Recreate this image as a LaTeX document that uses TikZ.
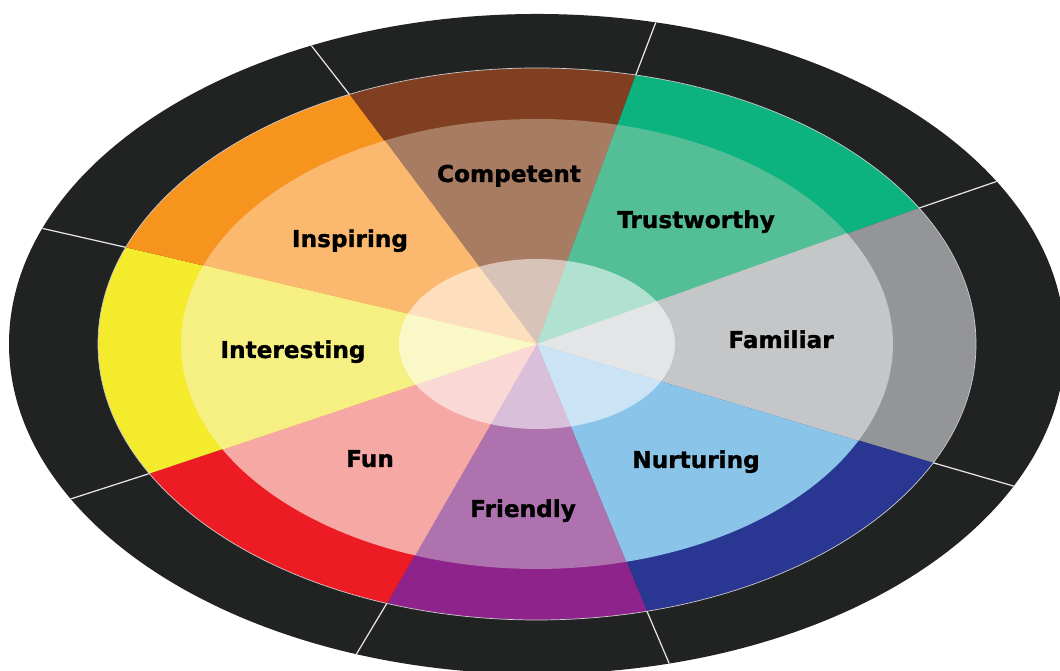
\documentclass[tikz,border=0pt]{standalone}
\usepackage{fontspec}
\setmainfont{DejaVu Sans}
\newfontfamily\wordfont[FakeBold=1.2]{DejaVu Sans Bold}
\usetikzlibrary{calc}

\definecolor{ring}{HTML}{212322}
\definecolor{compO}{HTML}{7F3F20}
\definecolor{compI}{HTML}{A77C62}
\definecolor{trustO}{HTML}{0DB37F}
\definecolor{trustI}{HTML}{54BE97}
\definecolor{famiO}{HTML}{949598}
\definecolor{famiI}{HTML}{C5C6C8}
\definecolor{nurtO}{HTML}{293692}
\definecolor{nurtI}{HTML}{8AC4E9}
\definecolor{frieO}{HTML}{8E248B}
\definecolor{frieI}{HTML}{AE72AE}
\definecolor{funO}{HTML}{ED1C24}
\definecolor{funI}{HTML}{F6A9A4}
\definecolor{inteO}{HTML}{F4EB2D}
\definecolor{inteI}{HTML}{F6F082}
\definecolor{inspO}{HTML}{F7941E}
\definecolor{inspI}{HTML}{FBB970}

\begin{document}
\begin{tikzpicture}[word/.style={font=\wordfont\fontsize{6.6}{8}\selectfont, anchor=base},
                    sep/.style={draw=white!80!gray, line width=0.35pt}]
                \useasboundingbox (0,0) rectangle (10.6,6.71);
                \clip (0,0) rectangle (10.6,6.71);
                \coordinate (C) at (5.37,3.27);
                % dark ring
                \fill[ring] (C) ellipse [x radius=5.28, y radius=3.30];
                % outer colour band
                \fill[compO] (C) -- ++(77:4.39 and 2.76) arc[start angle=77, end angle=115.3, x radius=4.39, y radius=2.76] -- cycle;
                \fill[trustO] (C) -- ++(29.5:4.39 and 2.76) arc[start angle=29.5, end angle=77, x radius=4.39, y radius=2.76] -- cycle;
                \fill[famiO] (C) -- ++(-25.5:4.39 and 2.76) arc[start angle=-25.5, end angle=29.5, x radius=4.39, y radius=2.76] -- cycle;
                \fill[nurtO] (C) -- ++(-75.5:4.39 and 2.76) arc[start angle=-75.5, end angle=-25.5, x radius=4.39, y radius=2.76] -- cycle;
                \fill[frieO] (C) -- ++(-110:4.39 and 2.76) arc[start angle=-110, end angle=-75.5, x radius=4.39, y radius=2.76] -- cycle;
                \fill[funO] (C) -- ++(-152:4.39 and 2.76) arc[start angle=-152, end angle=-110, x radius=4.39, y radius=2.76] -- cycle;
                \fill[inteO] (C) -- ++(159.5:4.39 and 2.76) arc[start angle=159.5, end angle=208, x radius=4.39, y radius=2.76] -- cycle;
                \fill[inspO] (C) -- ++(115.3:4.39 and 2.76) arc[start angle=115.3, end angle=159.5, x radius=4.39, y radius=2.76] -- cycle;
                \draw[white!60!gray, line width=0.2pt] (C) ellipse [x radius=4.39, y radius=2.76];
                % lighter inner band
                \fill[compI] (C) -- ++(77:3.56 and 2.25) arc[start angle=77, end angle=115.3, x radius=3.56, y radius=2.25] -- cycle;
                \fill[trustI] (C) -- ++(29.5:3.56 and 2.25) arc[start angle=29.5, end angle=77, x radius=3.56, y radius=2.25] -- cycle;
                \fill[famiI] (C) -- ++(-25.5:3.56 and 2.25) arc[start angle=-25.5, end angle=29.5, x radius=3.56, y radius=2.25] -- cycle;
                \fill[nurtI] (C) -- ++(-75.5:3.56 and 2.25) arc[start angle=-75.5, end angle=-25.5, x radius=3.56, y radius=2.25] -- cycle;
                \fill[frieI] (C) -- ++(-110:3.56 and 2.25) arc[start angle=-110, end angle=-75.5, x radius=3.56, y radius=2.25] -- cycle;
                \fill[funI] (C) -- ++(-152:3.56 and 2.25) arc[start angle=-152, end angle=-110, x radius=3.56, y radius=2.25] -- cycle;
                \fill[inteI] (C) -- ++(159.5:3.56 and 2.25) arc[start angle=159.5, end angle=208, x radius=3.56, y radius=2.25] -- cycle;
                \fill[inspI] (C) -- ++(115.3:3.56 and 2.25) arc[start angle=115.3, end angle=159.5, x radius=3.56, y radius=2.25] -- cycle;
                % pale centre
                \fill[white, fill opacity=0.55] (C) ellipse [x radius=1.38, y radius=0.85];
                % separators in the dark ring
                \draw[sep] ($(C)+(115.3:4.39 and 2.76)$) -- ($(C)+(115.3:5.28 and 3.30)$);
                \draw[sep] ($(C)+(77:4.39 and 2.76)$) -- ($(C)+(77:5.28 and 3.30)$);
                \draw[sep] ($(C)+(29.5:4.39 and 2.76)$) -- ($(C)+(29.5:5.28 and 3.30)$);
                \draw[sep] ($(C)+(-25.5:4.39 and 2.76)$) -- ($(C)+(-25.5:5.28 and 3.30)$);
                \draw[sep] ($(C)+(-75.5:4.39 and 2.76)$) -- ($(C)+(-75.5:5.28 and 3.30)$);
                \draw[sep] ($(C)+(-110:4.39 and 2.76)$) -- ($(C)+(-110:5.28 and 3.30)$);
                \draw[sep] ($(C)+(-152:4.39 and 2.76)$) -- ($(C)+(-152:5.28 and 3.30)$);
                \draw[sep] ($(C)+(159.5:4.39 and 2.76)$) -- ($(C)+(159.5:5.28 and 3.30)$);
                % words
                \node[word](COMP) at (5.09,4.89) {Competent};
                \node[word](TRUST) at (6.96,4.43) {Trustworthy};
                \node[word](FAMI) at (7.81,3.23) {Familiar};
                \node[word](NURT) at (6.96,2.03) {Nurturing};
                \node[word](FRIE) at (5.23,1.54) {Friendly};
                \node[word](FUN) at (3.70,2.04) {Fun};
                \node[word](INTE) at (2.93,3.13) {Interesting};
                \node[word](INSP) at (3.50,4.24) {Inspiring};
            \end{tikzpicture}
\end{document}
